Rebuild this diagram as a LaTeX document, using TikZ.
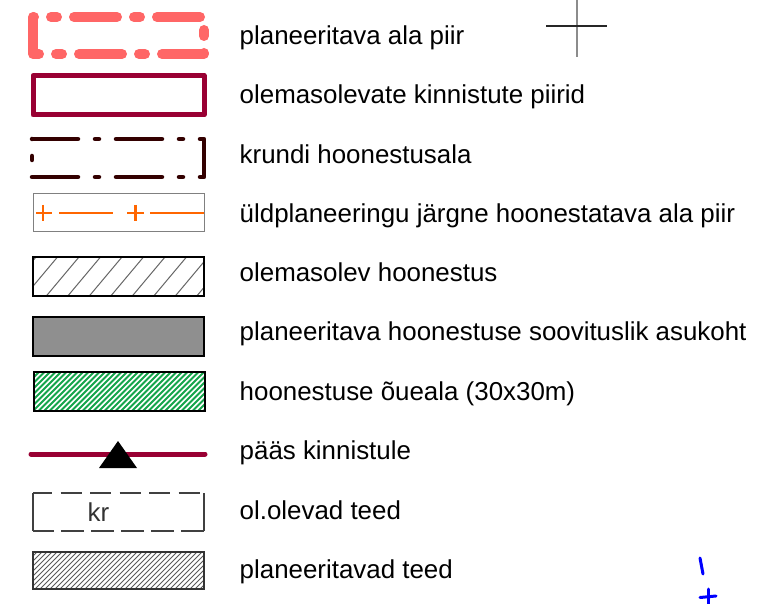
\documentclass[tikz,border=0pt]{standalone}
\usepackage{fontspec}
\setmainfont{Liberation Sans}
\definecolor{salmon}{RGB}{255,102,102}
\definecolor{wine}{RGB}{153,0,51}
\definecolor{darkbrown}{RGB}{51,0,0}
\definecolor{orangeline}{RGB}{255,102,0}
\definecolor{hatchgreen}{RGB}{20,165,75}
\definecolor{fillgray}{RGB}{143,143,143}
\begin{document}
\begin{tikzpicture}[x=1pt,y=-1pt,
  lbl/.style={anchor=base west,inner sep=0pt,font=\fontsize{25.9}{30}\selectfont,text=black},
  bigdash/.style={salmon,line width=10,line cap=round,line join=round,dash pattern=on 43 off 17 on 6 off 17},
  wineline/.style={wine,line width=5,line cap=round,line join=round},
  krunt/.style={darkbrown,line width=4.5,line cap=round,line join=round,dash pattern=on 46 off 17 on 4 off 17},
  orline/.style={orangeline,line width=2.5},
  boxline/.style={black,line width=2.4},
  thinhatch/.style={black!65,line width=0.9},
  roadline/.style={black!75,line width=1.5}]
\useasboundingbox (0,0) rectangle (766,604);
\fill[white] (0,0) rectangle (766,604);

% row 1
\draw[bigdash] (33,17) -- (33,54) -- (204,54) -- (204,17) -- cycle;
\node[lbl] (t1) at (239.5,44.5) {planeeritava ala piir};

% row 2
\draw[wineline] (33,75.5) rectangle (204,115);
\node[lbl] (t2) at (239.5,103.8) {olemasolevate kinnistute piirid};

% row 3
\draw[krunt] (32,139) -- (204,139) -- (204,177) -- (32,177) -- cycle;
\node[lbl] (t3) at (239.5,163.1) {krundi hoonestusala};

% row 4
\draw[black!50,line width=1] (33,194) rectangle (204,232);
\draw[orline] (36,213) -- (52,213) (43,205) -- (43,221);
\draw[orline] (59,213) -- (113,213);
\draw[orline] (127,213) -- (144,213) (135.5,205) -- (135.5,221);
\draw[orline] (150,213) -- (204,213);
\node[lbl] (t4) at (239.5,222.2) {üldplaneeringu järgne hoonestatava ala piir};

% row 5
\begin{scope}
\clip (33,257) rectangle (204,296);
\foreach \k in {-2,...,9} \draw[black!60,line width=1] ({3.3+21.5*\k},296) -- ({36+21.5*\k},257);
\end{scope}
\draw[boxline] (33,257) rectangle (204,296);
\node[lbl] (t5) at (239.5,281.2) {olemasolev hoonestus};

% row 6
\draw[boxline,fill=fillgray] (33,317) rectangle (204,356);
\node[lbl] (t6) at (239.5,340.8) {planeeritava hoonestuse soovituslik asukoht};

% row 7
\begin{scope}
\clip (34,372) rectangle (205,411);
\foreach \x in {-44,-38.5,...,210} \draw[hatchgreen,line width=1.9] (\x,411) -- (\x+39,372);
\end{scope}
\draw[boxline] (34,372) rectangle (205,411);
\node[lbl] (t7) at (239.5,400.3) {hoonestuse õueala (30x30m)};

% row 8
\draw[wineline] (31,454) -- (205,454);
\fill[black] (118,441) -- (137,468) -- (99,468) -- cycle;
\node[lbl] (t8) at (239.5,459.8) {pääs kinnistule};

% row 9
\draw[roadline] (33,493) -- (33,531);
\draw[roadline] (204,493) -- (204,531);
\draw[roadline,dash pattern=on 21 off 8.5,dash phase=2] (33,493) -- (204,493);
\draw[roadline,dash pattern=on 22.5 off 7.5,dash phase=2] (33,531) -- (204,531);
\node[anchor=base,inner sep=0pt,font=\fontsize{25.9}{30}\selectfont,text=black!80] (kr) at (98.5,521) {kr};
\node[lbl] (t9) at (239.5,519) {ol.olevad teed};

% row 10
\begin{scope}
\clip (33,552) rectangle (204,589);
\foreach \x in {-45,-40,...,210} \draw[thinhatch] (\x,589) -- (\x+37,552);
\end{scope}
\draw[black!80,line width=1.6] (33,552) rectangle (204,589);
\node[lbl] (t10) at (239.5,578.2) {planeeritavad teed};

% cross top right
\draw[black!45,line width=1.6] (577,0) -- (577,57);
\draw[black!85,line width=1.2] (546,26) -- (607,26);

% blue marks
\draw[blue,line width=3,line cap=round] (700,558) -- (703,574);
\draw[blue,line width=3,line cap=round] (700,597.5) -- (716,596);
\draw[blue,line width=3,line cap=round] (708,589) -- (708,606);
\end{tikzpicture}
\end{document}
